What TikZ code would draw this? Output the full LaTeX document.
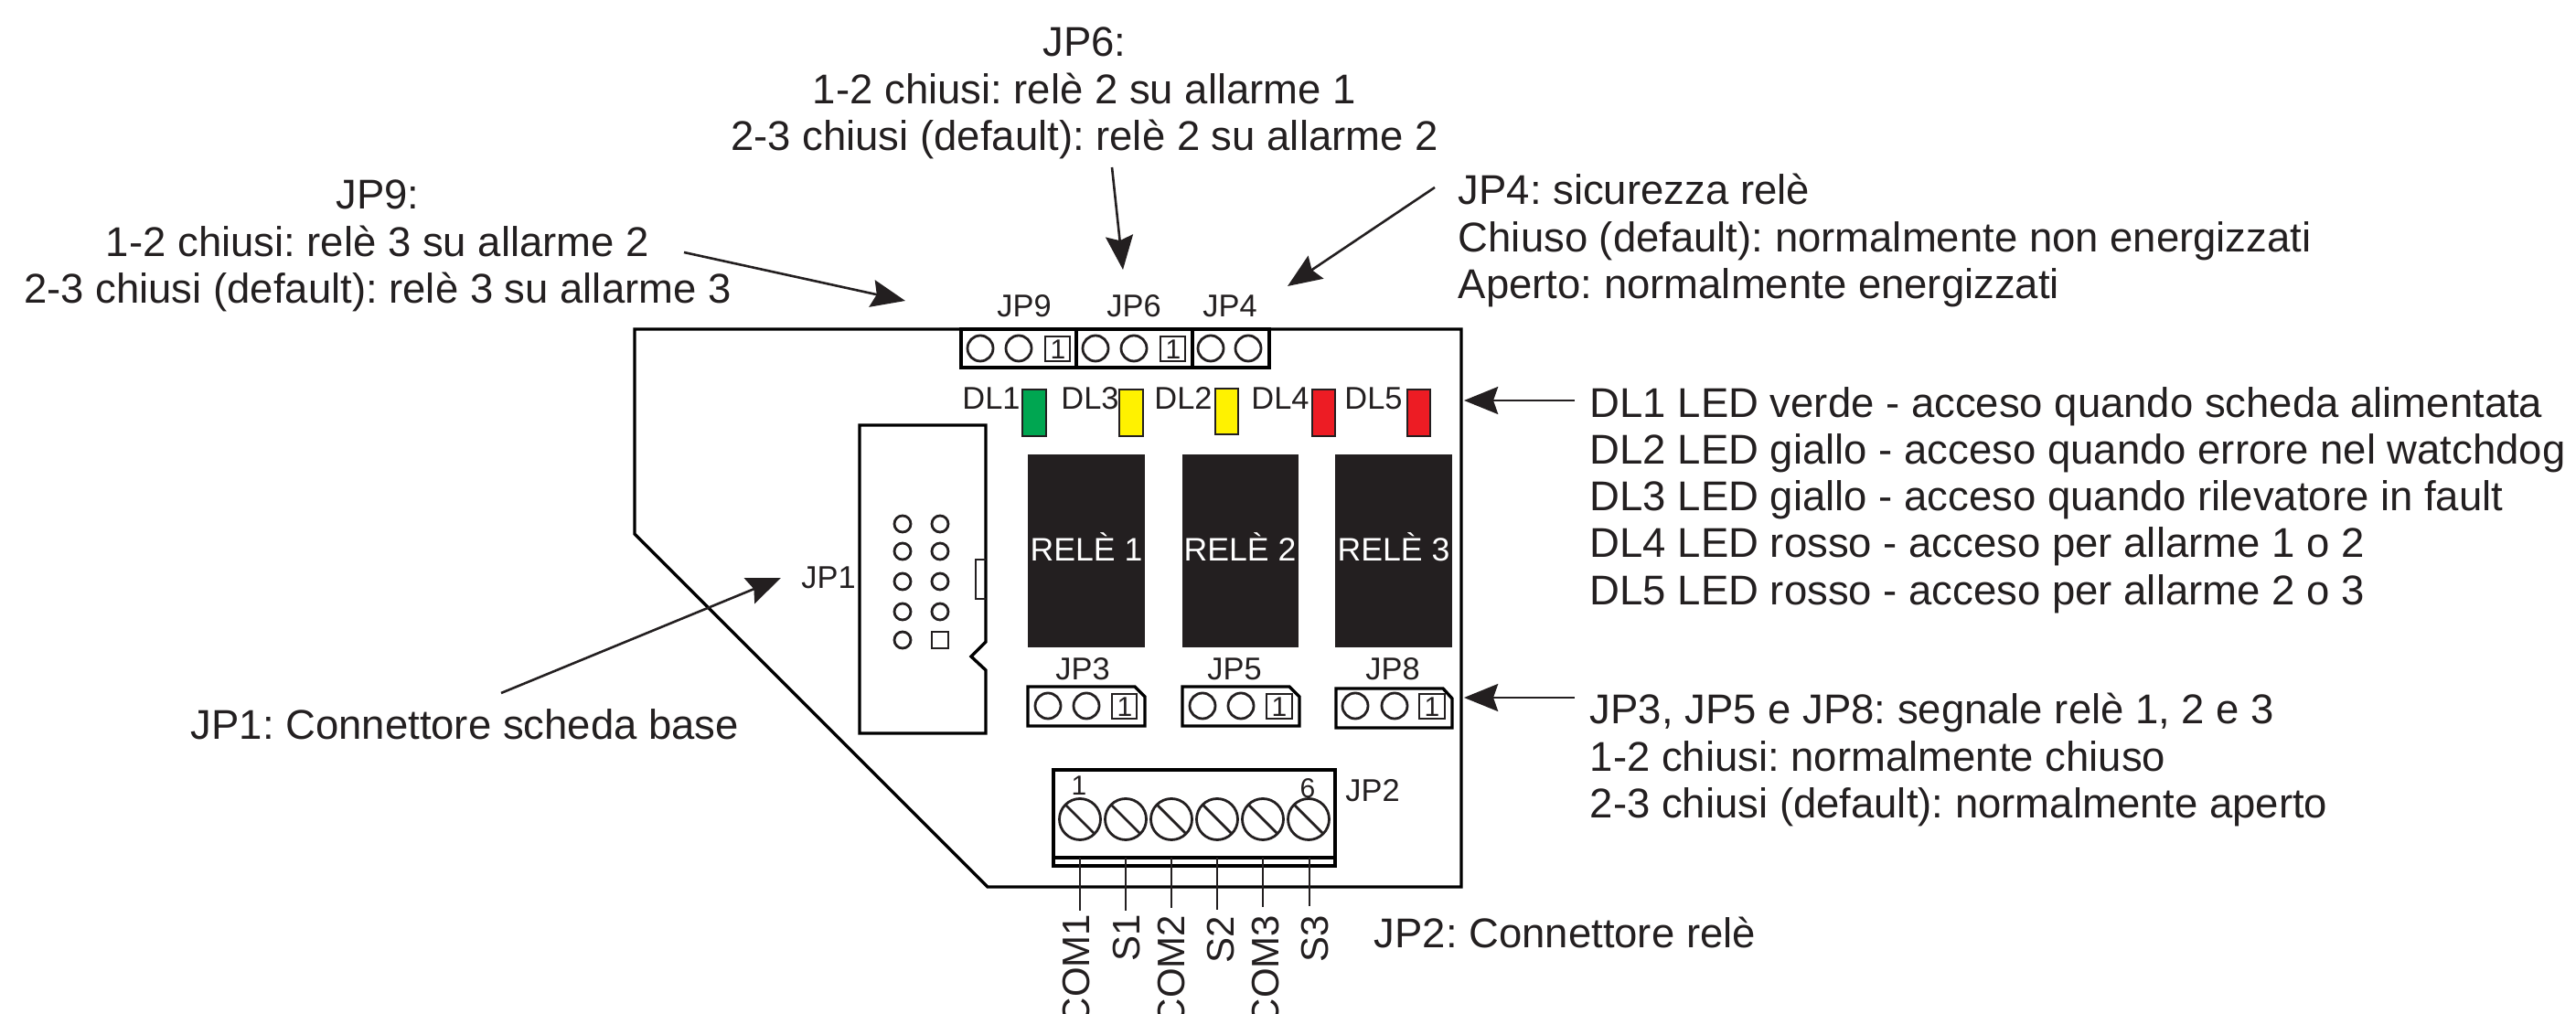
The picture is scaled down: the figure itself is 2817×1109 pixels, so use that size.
\documentclass[tikz,border=0pt]{standalone}
\usepackage{fontspec}
\setmainfont{Liberation Sans}
\usepackage{xcolor}
\usetikzlibrary{arrows.meta}
\definecolor{inkdark}{HTML}{231F20}
\definecolor{ledgreen}{HTML}{00A651}
\definecolor{ledyellow}{HTML}{FFF200}
\definecolor{ledred}{HTML}{ED1C24}
\frenchspacing

\begin{document}
\begin{tikzpicture}[x=0.25pt,y=-0.25pt,
    line/.style={draw=black, line width=0.85pt},
    thin line/.style={draw=inkdark, line width=0.7pt},
    pointer/.style={draw=inkdark, line width=0.65pt, -{Stealth[length=9.3pt,width=7.5pt,inset=1.3pt]}},
    led/.style={draw=inkdark, line width=0.4pt},
    note/.style={text=inkdark, inner sep=0pt, font=\fontsize{11.37}{12.8}\selectfont},
    tag/.style={text=inkdark, inner sep=0pt, font=\fontsize{8.6}{10}\selectfont},
    digit/.style={text=inkdark, inner sep=0pt, font=\fontsize{7.5}{9}\selectfont},
    relay/.style={text=white, inner sep=0pt, font=\fontsize{8.9}{11}\selectfont},
    pinlabel/.style={text=inkdark, inner sep=0pt, font=\fontsize{10.5}{12}\selectfont, rotate=90, anchor=east}]
    \useasboundingbox (0,0) rectangle (2817,1109);

    % Board outline
    \draw[line] (694,360) -- (1598,360) -- (1598,970) -- (1080,970) -- (694,584) -- cycle;

    % Jumpers on the top edge
    \draw[line] (1051,360) rectangle (1388,402);
    \draw[line] (1177,360) -- (1177,402);
    \draw[line] (1304,360) -- (1304,402);
    \draw[thin line] (1072,381) circle (14);
    \draw[thin line] (1114,381) circle (14);
    \draw[thin line] (1143,368) rectangle (1170,395);
    \draw[thin line] (1198,381) circle (14);
    \draw[thin line] (1240,381) circle (14);
    \draw[thin line] (1269,368) rectangle (1296,395);
    \draw[thin line] (1324,381) circle (14);
    \draw[thin line] (1365,381) circle (14);
    \node[digit] (one9) at (1157,382) {1};
    \node[digit] (one6) at (1283,382) {1};
    \node[tag] (jp9) at (1120,335) {JP9};
    \node[tag] (jp6) at (1240,335) {JP6};
    \node[tag] (jp4) at (1345,335) {JP4};

    % LEDs
    \draw[led, fill=ledgreen] (1118,426) rectangle (1144,477);
    \draw[led, fill=ledyellow] (1224,426) rectangle (1250,477);
    \draw[led, fill=ledyellow] (1329,425) rectangle (1354,475);
    \draw[led, fill=ledred] (1435,426) rectangle (1460,477);
    \draw[led, fill=ledred] (1539,426) rectangle (1564,477);
    \node[tag] (dl1) at (1084,436) {DL1};
    \node[tag] (dl3) at (1192,436) {DL3};
    \node[tag] (dl2) at (1294,436) {DL2};
    \node[tag] (dl4) at (1400,436) {DL4};
    \node[tag] (dl5) at (1502,436) {DL5};

    % Relays
    \fill[inkdark] (1124,497) rectangle (1252,708);
    \fill[inkdark] (1293,497) rectangle (1420,708);
    \fill[inkdark] (1460,497) rectangle (1588,708);
    \node[relay] (rele1) at (1188,598) {RELÈ 1};
    \node[relay] (rele2) at (1356,598) {RELÈ 2};
    \node[relay] (rele3) at (1524,598) {RELÈ 3};

    % JP1 connector
    \draw[line] (940,465) -- (1078,465) -- (1078,702) -- (1062,718) -- (1078,733) -- (1078,802) -- (940,802) -- cycle;
    \draw[thin line] (1078,612) -- (1067,612) -- (1067,655) -- (1078,655);
    \draw[thin line] (987,573) circle (9);
    \draw[thin line] (1028,573) circle (9);
    \draw[thin line] (987,603) circle (9);
    \draw[thin line] (1028,603) circle (9);
    \draw[thin line] (987,636) circle (9);
    \draw[thin line] (1028,636) circle (9);
    \draw[thin line] (987,669) circle (9);
    \draw[thin line] (1028,669) circle (9);
    \draw[thin line] (987,700) circle (9);
    \draw[thin line] (1019,691) rectangle (1037,709);
    \node[tag] (jp1) at (906,632) {JP1};

    % Relay jumpers
    \draw[line] (1124,751) -- (1241,751) -- (1252,762) -- (1252,794) -- (1124,794) -- cycle;
    \draw[thin line] (1146,772) circle (14);
    \draw[thin line] (1188,772) circle (14);
    \draw[thin line] (1216,759) rectangle (1243,786);
    \node[digit] (one3) at (1230,773) {1};
    \draw[line] (1293,751) -- (1410,751) -- (1421,762) -- (1421,794) -- (1293,794) -- cycle;
    \draw[thin line] (1315,772) circle (14);
    \draw[thin line] (1357,772) circle (14);
    \draw[thin line] (1385,759) rectangle (1413,786);
    \node[digit] (one5) at (1399,773) {1};
    \draw[line] (1461,753) -- (1578,753) -- (1588,764) -- (1588,796) -- (1461,796) -- cycle;
    \draw[thin line] (1482,772) circle (14);
    \draw[thin line] (1525,772) circle (14);
    \draw[thin line] (1552,759) rectangle (1580,786);
    \node[digit] (one8) at (1566,773) {1};
    \node[tag] (jp3) at (1184,732) {JP3};
    \node[tag] (jp5) at (1350,732) {JP5};
    \node[tag] (jp8) at (1523,732) {JP8};

    % JP2 terminal block
    \draw[line] (1152,842) rectangle (1460,947);
    \draw[line] (1152,938) -- (1460,938);
    \draw[thin line] (1181,896) circle (22.5);
    \draw[thin line] (1231,896) circle (22.5);
    \draw[thin line] (1281,896) circle (22.5);
    \draw[thin line] (1331,896) circle (22.5);
    \draw[thin line] (1381,896) circle (22.5);
    \draw[thin line] (1431,896) circle (22.5);
    \draw[thin line] (1165,880) -- (1197,912);
    \draw[thin line] (1215,880) -- (1247,912);
    \draw[thin line] (1265,880) -- (1297,912);
    \draw[thin line] (1315,880) -- (1347,912);
    \draw[thin line] (1365,880) -- (1397,912);
    \draw[thin line] (1415,880) -- (1447,912);
    \draw[thin line] (1181,938) -- (1181,996);
    \draw[thin line] (1231,938) -- (1231,996);
    \draw[thin line] (1281,938) -- (1281,993);
    \draw[thin line] (1331,938) -- (1331,995);
    \draw[thin line] (1381,938) -- (1381,992);
    \draw[thin line] (1432,938) -- (1432,991);
    \node[digit] (pin1) at (1180,859) {1};
    \node[digit] (pin6) at (1430,862) {6};
    \node[tag] (jp2) at (1501,865) {JP2};
    \node[pinlabel] (com1) at (1177,999) {COM1};
    \node[pinlabel] (s1) at (1232,999) {S1};
    \node[pinlabel] (com2) at (1281,1000) {COM2};
    \node[pinlabel] (s2) at (1335,1001) {S2};
    \node[pinlabel] (com3) at (1384,1000) {COM3};
    \node[pinlabel] (s3) at (1438,1000) {S3};

    % Notes around the board
    \node[note, align=center] (notejp6) at (1186,102) {JP6:\\1-2 chiusi: relè 2 su allarme 1\\2-3 chiusi (default): relè 2 su allarme 2};
    \node[note, align=center] (notejp9) at (413,269) {JP9:\\1-2 chiusi: relè 3 su allarme 2\\2-3 chiusi (default): relè 3 su allarme 3};
    \node[note, align=left, anchor=west] (notejp4) at (1594,263) {JP4: sicurezza relè\\Chiuso (default): normalmente non energizzati\\Aperto: normalmente energizzati};
    \node[note, align=left, anchor=west] (notedl) at (1738,547) {DL1 LED verde - acceso quando scheda alimentata\\DL2 LED giallo - acceso quando errore nel watchdog\\DL3 LED giallo - acceso quando rilevatore in fault\\DL4 LED rosso - acceso per allarme 1 o 2\\DL5 LED rosso - acceso per allarme 2 o 3};
    \node[note, align=left, anchor=west] (notejp3) at (1738,831) {JP3, JP5 e JP8: segnale relè 1, 2 e 3\\1-2 chiusi: normalmente chiuso\\2-3 chiusi (default): normalmente aperto};
    \node[note, anchor=west] (notejp1) at (208,792) {JP1: Connettore scheda base};
    \node[note, anchor=west] (notejp2) at (1502,1020) {JP2: Connettore relè};

    % Pointers
    \coordinate (jp6from) at (1216,183);
    \coordinate (jp6to) at (1228,295);
    \coordinate (jp9from) at (748,276);
    \coordinate (jp9to) at (990,329);
    \coordinate (jp4from) at (1569,205);
    \coordinate (jp4to) at (1408,313);
    \coordinate (dlfrom) at (1722,438);
    \coordinate (dlto) at (1601,438);
    \coordinate (jp3from) at (1722,763);
    \coordinate (jp3to) at (1601,763);
    \coordinate (jp1from) at (548,758);
    \coordinate (jp1to) at (854,632);
    \draw[pointer] (jp6from) -- (jp6to);
    \draw[pointer] (jp9from) -- (jp9to);
    \draw[pointer] (jp4from) -- (jp4to);
    \draw[pointer] (dlfrom) -- (dlto);
    \draw[pointer] (jp3from) -- (jp3to);
    \draw[pointer] (jp1from) -- (jp1to);
\end{tikzpicture}
\end{document}
